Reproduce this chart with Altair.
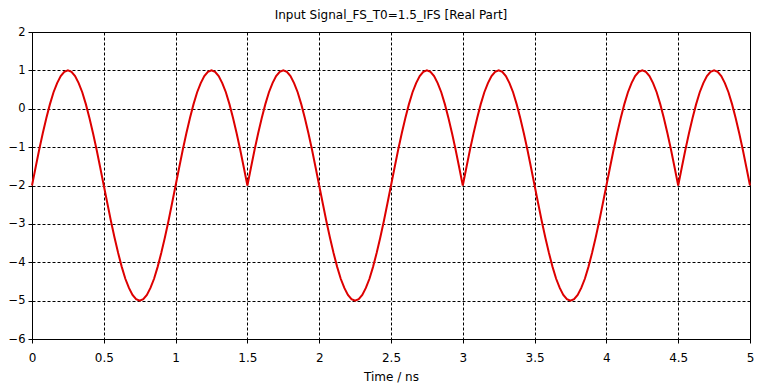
import altair as alt
import numpy as np
import pandas as pd

title_text = "Input Signal_FS_T0=1.5_IFS [Real Part]"
x_title = "Time / ns"
x_ticks = [0, 0.5, 1, 1.5, 2, 2.5, 3, 3.5, 4, 4.5, 5]
y_ticks = [-6, -5, -4, -3, -2, -1, 0, 1, 2]

values = [
    -2.0, -1.53, -1.07, -0.64, -0.24, 0.12, 0.43, 0.67, 0.85, 0.96, 1.0, 0.96, 0.85, 0.67, 0.43, 0.12, -0.24, -0.64, -1.07, -1.53,
    -2.0, -2.47, -2.93, -3.36, -3.76, -4.12, -4.43, -4.67, -4.85, -4.96, -5.0, -4.96, -4.85, -4.67, -4.43, -4.12, -3.76, -3.36, -2.93, -2.47,
    -2.0, -1.53, -1.07, -0.64, -0.24, 0.12, 0.43, 0.67, 0.85, 0.96, 1.0, 0.96, 0.85, 0.67, 0.43, 0.12, -0.24, -0.64, -1.07, -1.53,
    -2.0, -1.53, -1.07, -0.64, -0.24, 0.12, 0.43, 0.67, 0.85, 0.96, 1.0, 0.96, 0.85, 0.67, 0.43, 0.12, -0.24, -0.64, -1.07, -1.53,
    -2.0, -2.47, -2.93, -3.36, -3.76, -4.12, -4.43, -4.67, -4.85, -4.96, -5.0, -4.96, -4.85, -4.67, -4.43, -4.12, -3.76, -3.36, -2.93, -2.47,
    -2.0, -1.53, -1.07, -0.64, -0.24, 0.12, 0.43, 0.67, 0.85, 0.96, 1.0, 0.96, 0.85, 0.67, 0.43, 0.12, -0.24, -0.64, -1.07, -1.53,
    -2.0, -1.53, -1.07, -0.64, -0.24, 0.12, 0.43, 0.67, 0.85, 0.96, 1.0, 0.96, 0.85, 0.67, 0.43, 0.12, -0.24, -0.64, -1.07, -1.53,
    -2.0, -2.47, -2.93, -3.36, -3.76, -4.12, -4.43, -4.67, -4.85, -4.96, -5.0, -4.96, -4.85, -4.67, -4.43, -4.12, -3.76, -3.36, -2.93, -2.47,
    -2.0, -1.53, -1.07, -0.64, -0.24, 0.12, 0.43, 0.67, 0.85, 0.96, 1.0, 0.96, 0.85, 0.67, 0.43, 0.12, -0.24, -0.64, -1.07, -1.53,
    -2.0, -1.53, -1.07, -0.64, -0.24, 0.12, 0.43, 0.67, 0.85, 0.96, 1.0, 0.96, 0.85, 0.67, 0.43, 0.12, -0.24, -0.64, -1.07, -1.53,
    -2.0,
]
time = np.round(np.arange(len(values)) * 0.025, 3)

df = pd.DataFrame({"t": time, "v": values})

FONT = "DejaVu Sans"

chart = (
    alt.Chart(df)
    .mark_line(color="#dd0000", strokeWidth=2)
    .encode(
        x=alt.X(
            "t:Q",
            scale=alt.Scale(domain=[0, 5], nice=False, zero=False),
            axis=alt.Axis(values=x_ticks, title=x_title, format="~g", labelFlush=False,
                          labelPadding=9, titlePadding=8),
        ),
        y=alt.Y(
            "v:Q",
            scale=alt.Scale(domain=[-6, 2], nice=False),
            axis=alt.Axis(values=y_ticks, title=None, format="~g", labelPadding=3,
                          labelFontSize=11.5),
        ),
    )
    .properties(
        width=718,
        height=307,
        title=alt.TitleParams(title_text, font=FONT, fontSize=12, fontWeight="normal", color="black",
                              offset=4, anchor="middle"),
        autosize=alt.AutoSizeParams(type="none"),
        padding={"left": 24, "top": 24, "right": 7, "bottom": 44},
    )
    .configure_view(stroke="black", strokeWidth=1)
    .configure_axis(
        grid=True,
        gridColor="black",
        gridDash=[3, 2],
        gridOpacity=1,
        gridWidth=1,
        domainColor="black",
        tickColor="black",
        tickSize=4,
        labelFont=FONT,
        labelFontSize=12,
        labelColor="black",
        titleFont=FONT,
        titleFontSize=12,
        titleFontWeight="normal",
        titleColor="black",
    )
)

chart.save("out.html", embed_options={"renderer": "svg", "actions": False})
